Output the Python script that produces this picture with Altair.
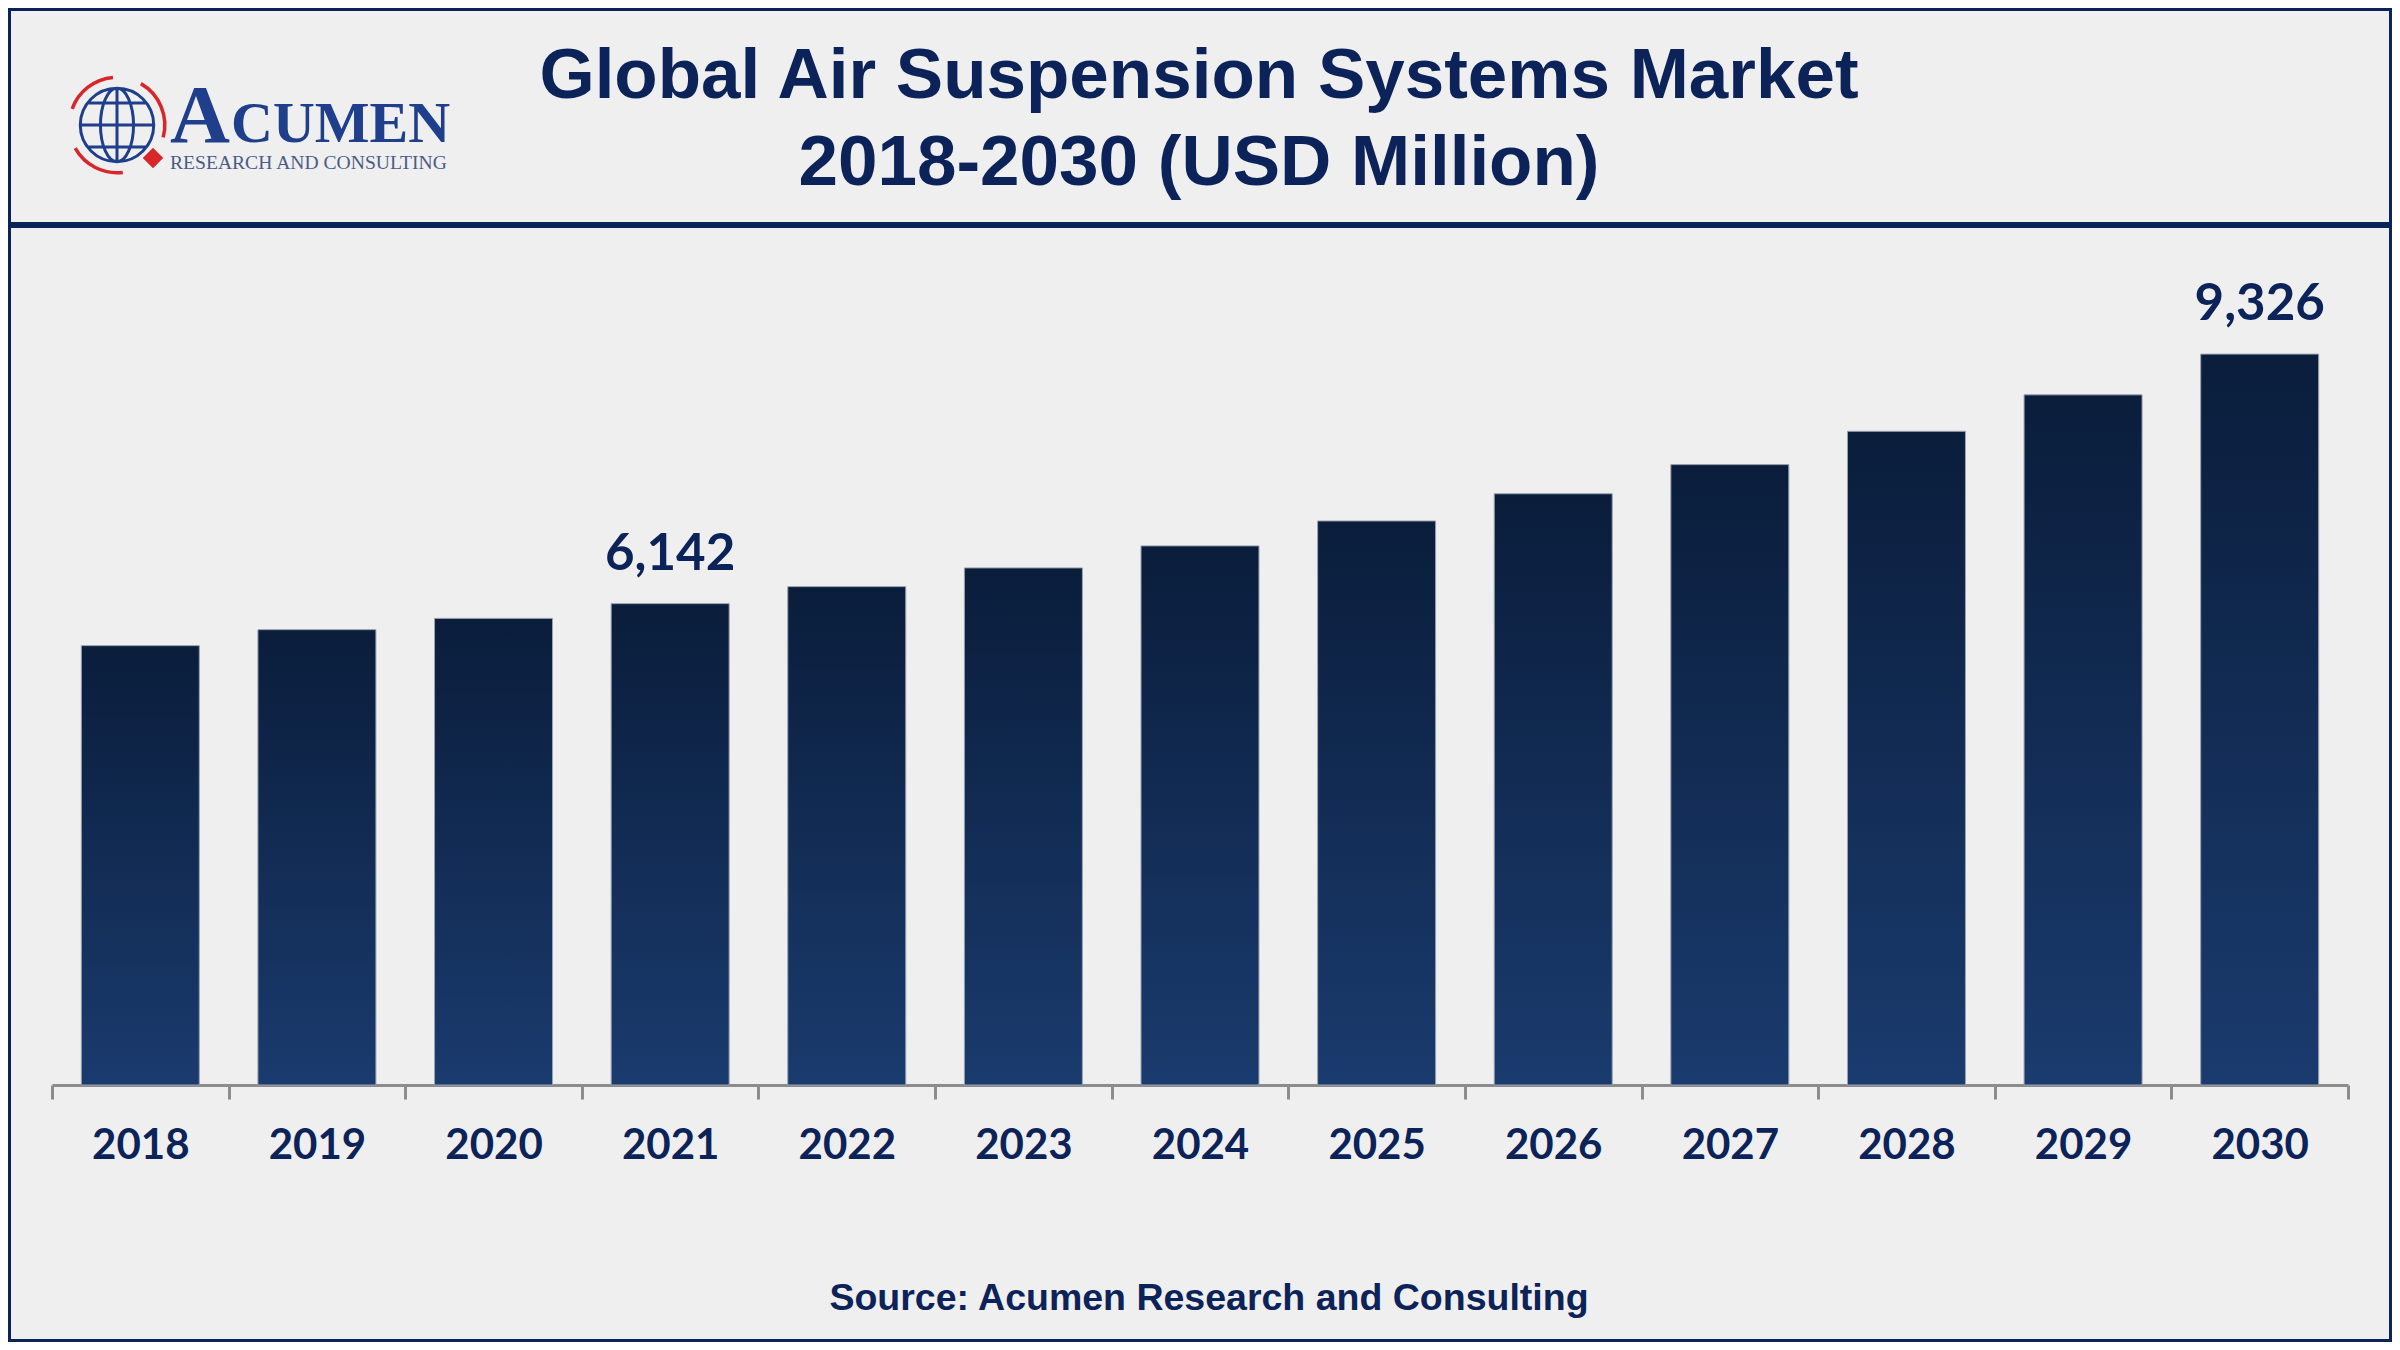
import altair as alt
import pandas as pd

# ---- data ----
years = ["2018", "2019", "2020", "2021", "2022", "2023", "2024",
         "2025", "2026", "2027", "2028", "2029", "2030"]
values = [5606, 5810, 5954, 6142, 6359, 6598, 6879,
          7197, 7544, 7916, 8341, 8806, 9326]
label_years = ["2021", "2030"]

title_line1 = "Global Air Suspension Systems Market"
title_line2 = "2018-2030 (USD Million)"
source_text = "Source: Acumen Research and Consulting"
logo_big = "A"
logo_rest = "CUMEN"
logo_sub = "RESEARCH AND CONSULTING"

df = pd.DataFrame({"year": years, "value": values})

NAVY = "#0c2359"
LOGO_BLUE = "#1f3f8c"
GRAY = "#8c8c8c"

W, H = 2296, 837
PAD = {"left": 44, "right": 44, "top": 240, "bottom": 257}
OX = 44  # left padding, used to place decoration relative to the plot origin

x_enc = alt.X(
    "year:N", sort=years,
    scale=alt.Scale(paddingInner=0, paddingOuter=0),
    axis=alt.Axis(title=None, labelAngle=0, tickBand="extent",
                  domainColor=GRAY, domainWidth=3, tickColor=GRAY,
                  tickWidth=3, tickSize=14, labelFont="Lato",
                  labelFontWeight="bold", labelFontSize=42,
                  labelColor=NAVY, labelPadding=26, grid=False),
)
y_enc = alt.Y("value:Q", scale=alt.Scale(domain=[0, 10680], nice=False, zero=True),
              axis=None)

grad = alt.LinearGradient(
    gradient="linear",
    stops=[alt.GradientStop(color="#0a1d3b", offset=0),
           alt.GradientStop(color="#1a3b6e", offset=1)],
    x1=0, x2=0, y1=0, y2=1,
)

bars = alt.Chart(df).mark_bar(color=grad, stroke="#98a1ae", strokeWidth=1,
                              width=alt.RelativeBandSize(0.668)).encode(
    x=x_enc, y=y_enc
)

labels = alt.Chart(df).transform_filter(
    alt.FieldOneOfPredicate(field="year", oneOf=label_years)
).mark_text(font="Lato", fontWeight="bold", fontSize=51, color=NAVY,
            baseline="alphabetic", dy=-34).encode(
    x=alt.X("year:N", sort=years),
    y="value:Q",
    text=alt.Text("value:Q", format=","),
)

one = pd.DataFrame({"k": [0]})


def txt(s, **kw):
    return alt.Chart(pd.DataFrame({"t": [s]})).mark_text(**kw).encode(text="t:N")


def px(page_x):
    return page_x - 8 - OX


title1 = txt(title_line1, font="Liberation Sans", fontWeight="bold", fontSize=71,
             color=NAVY, align="center", baseline="alphabetic").encode(
    x=alt.value(px(1199)), y=alt.value(-150))
title2 = txt(title_line2, font="Liberation Sans", fontWeight="bold", fontSize=71,
             color=NAVY, align="center", baseline="alphabetic").encode(
    x=alt.value(px(1199)), y=alt.value(-63))
source = txt(source_text, font="Liberation Sans", fontWeight="bold", fontSize=37.5,
             color=NAVY, align="center", baseline="middle").encode(
    x=alt.value(px(1209)), y=alt.value(1051))

header_rule = alt.Chart(one).mark_rule(color=NAVY, strokeWidth=6).encode(
    x=alt.value(-OX), x2=alt.value(2384 - OX), y=alt.value(-23))

border = alt.Chart(one).mark_rect(fillOpacity=0, stroke=NAVY, strokeWidth=6).encode(
    x=alt.value(-OX), x2=alt.value(2384 - OX), y=alt.value(-240), y2=alt.value(1094))

globe_path = ("M -1 0 A 1 1 0 1 1 1 0 A 1 1 0 1 1 -1 0 Z "
              "M 0 -1 A 0.45 1 0 1 1 0 1 A 0.45 1 0 1 1 0 -1 "
              "M 0 -1 L 0 1 M -1 0 L 1 0 "
              "M -0.8 -0.6 L 0.8 -0.6 M -0.8 0.6 L 0.8 0.6")
arcs_path = ("M -1.22 -0.44 A 1.3 1.3 0 0 1 -0.11 -1.295 "
             "M 0.65 -1.126 A 1.3 1.3 0 0 1 1.256 0.336 "
             "M 0.158 1.29 A 1.3 1.3 0 0 1 -1.137 0.63")

globe = alt.Chart(one).mark_point(shape=globe_path, filled=False, stroke=LOGO_BLUE,
                                  strokeWidth=3, size=5400, opacity=1).encode(
    x=alt.value(px(117)), y=alt.value(-123))
arcs = alt.Chart(one).mark_point(shape=arcs_path, filled=False, stroke="#d8262a",
                                 strokeWidth=3.5, size=5400, opacity=1).encode(
    x=alt.value(px(117)), y=alt.value(-123))
diamond = alt.Chart(one).mark_point(shape="diamond", filled=True, color="#d8262a",
                                    size=420, opacity=1).encode(
    x=alt.value(px(153)), y=alt.value(-90))

logoA = txt(logo_big, font="Liberation Serif", fontWeight="bold", fontSize=83,
            color=LOGO_BLUE, align="left", baseline="alphabetic").encode(
    x=alt.value(px(170)), y=alt.value(-106))
logoC = txt(logo_rest, font="Liberation Serif", fontWeight="bold", fontSize=58,
            color=LOGO_BLUE, align="left", baseline="alphabetic").encode(
    x=alt.value(px(231)), y=alt.value(-106))
logoS = txt(logo_sub, font="Liberation Serif", fontSize=19.6,
            color="#4b5b86", align="left", baseline="alphabetic").encode(
    x=alt.value(px(170)), y=alt.value(-79))

chart = alt.layer(
    bars, labels, title1, title2, source, header_rule, border,
    globe, arcs, diamond, logoA, logoC, logoS
).properties(
    width=W, height=H, padding=PAD,
    autosize=alt.AutoSizeParams(type="none"),
    background="#efefef",
).configure_view(stroke=None)

chart.save("out.html", embed_options={"renderer": "svg", "actions": False})
